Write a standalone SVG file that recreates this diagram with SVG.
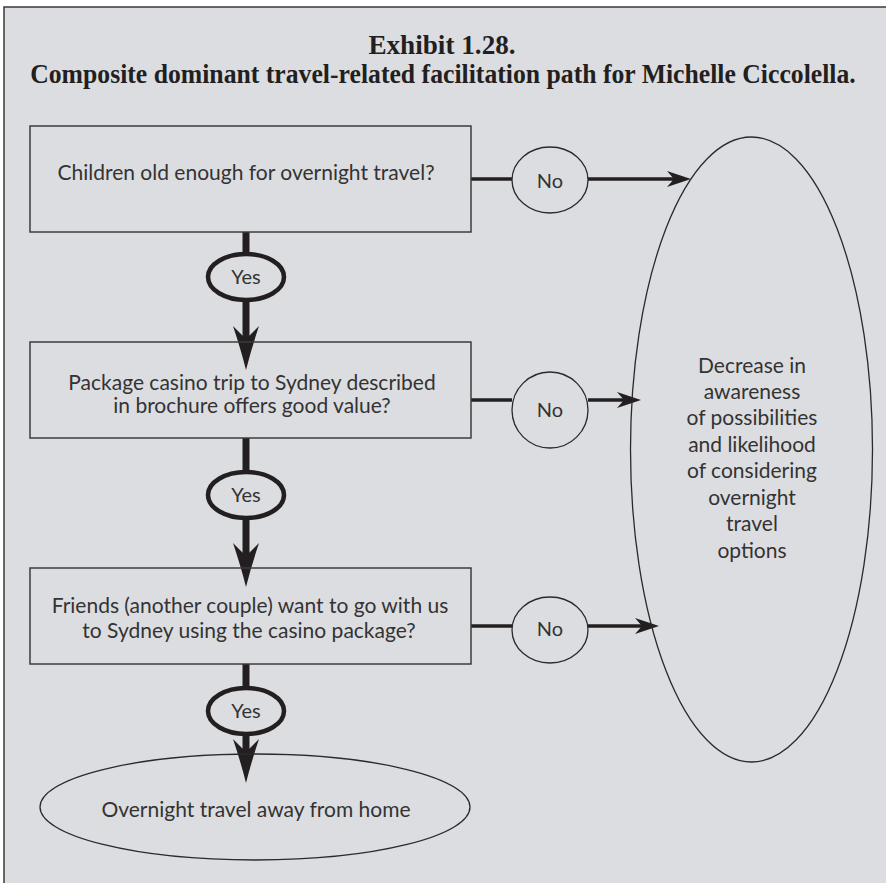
<svg xmlns="http://www.w3.org/2000/svg" xmlns:xlink="http://www.w3.org/1999/xlink" width="886" height="883" viewBox="0 0 886 883">
  <style>
    .panel { fill: #dcdde0; stroke: #3a3a3a; stroke-width: 1.5; }
    .box { fill: none; stroke: #3c3c3c; stroke-width: 1.5; }
    .thin { fill: none; stroke: #2a2a2a; stroke-width: 1.3; }
    .yes { fill: none; stroke: #231f20; stroke-width: 4.5; }
    .shaft { stroke: #231f20; stroke-width: 7; fill: none; }
    .hline { stroke: #231f20; stroke-width: 3.5; fill: none; }
    .head { fill: #231f20; }
    .title { font-family: "Liberation Serif", "Times New Roman", serif; font-weight: bold; font-size: 28px; fill: #231f20; text-anchor: middle; }
    .t { font-family: Lato, "Open Sans", sans-serif; font-size: 21px; fill: #333; text-anchor: middle; }
    .lbl { font-family: Lato, "Open Sans", sans-serif; font-size: 20px; fill: #333; text-anchor: middle; }
    .big { font-family: Lato, "Open Sans", sans-serif; font-size: 21px; fill: #333; text-anchor: middle; }
  </style>
  <defs>
    <!-- heavy barbed head, tip at origin, pointing down -->
    <path id="headDown" d="M0,0 Q5,-20 13,-44 L0,-31 L-13,-44 Q-5,-20 0,0 Z"/>
    <!-- light barbed head, tip at origin, pointing right -->
    <path id="headRight" d="M0,0 L-24,-8 L-17,0 L-24,8 Z"/>
  </defs>

  <!-- background panel -->
  <rect class="panel" x="4" y="7" width="890" height="885"/>

  <!-- condensed bold heading -->
  <g id="title" transform="scale(0.8 1)">
    <text class="title" x="552.5" y="54" textLength="184" lengthAdjust="spacingAndGlyphs">Exhibit 1.28.</text>
    <text class="title" x="553.75" y="83" textLength="1032" lengthAdjust="spacingAndGlyphs">Composite dominant travel-related facilitation path for Michelle Ciccolella.</text>
  </g>

  <g id="connectors">
    <!-- Yes branches -->
    <line class="shaft" x1="246" y1="232" x2="246" y2="253"/>
    <line class="shaft" x1="246" y1="301" x2="246" y2="340"/>
    <use xlink:href="#headDown" class="head" x="246" y="370"/>
    <line class="shaft" x1="246" y1="438" x2="246" y2="471"/>
    <line class="shaft" x1="246" y1="519" x2="246" y2="557"/>
    <use xlink:href="#headDown" class="head" x="246" y="587"/>
    <line class="shaft" x1="246" y1="664" x2="246" y2="688"/>
    <line class="shaft" x1="246" y1="735" x2="246" y2="753"/>
    <use xlink:href="#headDown" class="head" x="246" y="783"/>
    <!-- No branches -->
    <line class="hline" x1="471" y1="179" x2="512" y2="179"/>
    <line class="hline" x1="588" y1="179" x2="674" y2="179"/>
    <use xlink:href="#headRight" class="head" x="691" y="179"/>
    <line class="hline" x1="471" y1="400" x2="512" y2="400"/>
    <line class="hline" x1="588" y1="400" x2="624" y2="400"/>
    <use xlink:href="#headRight" class="head" x="641" y="400"/>
    <line class="hline" x1="471" y1="626" x2="512" y2="626"/>
    <line class="hline" x1="588" y1="626" x2="642" y2="626"/>
    <use xlink:href="#headRight" class="head" x="659" y="626"/>
  </g>

  <g id="q1">
    <rect class="box" x="30" y="126" width="441" height="106"/>
    <text class="t" x="246" y="180">Children old enough for overnight travel?</text>
  </g>
  <g id="q2">
    <rect class="box" x="30" y="342" width="441" height="96"/>
    <text class="t" x="252" y="390">Package casino trip to Sydney described</text>
    <text class="t" x="252" y="413">in brochure offers good value?</text>
  </g>
  <g id="q3">
    <rect class="box" x="30" y="568" width="441" height="96"/>
    <text class="t" x="250" y="613">Friends (another couple) want to go with us</text>
    <text class="t" x="249" y="638">to Sydney using the casino package?</text>
  </g>

  <g id="yes1">
    <ellipse class="yes" cx="246" cy="277" rx="38" ry="23"/>
    <text class="lbl" x="246" y="284">Yes</text>
  </g>
  <g id="yes2">
    <ellipse class="yes" cx="246" cy="495" rx="38" ry="23"/>
    <text class="lbl" x="246" y="502">Yes</text>
  </g>
  <g id="yes3">
    <ellipse class="yes" cx="246" cy="711" rx="38" ry="23"/>
    <text class="lbl" x="246" y="718">Yes</text>
  </g>

  <g id="no1">
    <ellipse class="thin" cx="550" cy="180" rx="38" ry="33"/>
    <text class="lbl" x="550" y="188">No</text>
  </g>
  <g id="no2">
    <ellipse class="thin" cx="550" cy="410" rx="38" ry="38"/>
    <text class="lbl" x="550" y="417">No</text>
  </g>
  <g id="no3">
    <ellipse class="thin" cx="550" cy="630" rx="38" ry="33"/>
    <text class="lbl" x="550" y="636">No</text>
  </g>

  <g id="decrease">
    <ellipse class="thin" cx="751.5" cy="449.5" rx="121" ry="312.5"/>
    <text class="big" x="752" y="373">Decrease in</text>
    <text class="big" x="752" y="399">awareness</text>
    <text class="big" x="752" y="425">of possibilities</text>
    <text class="big" x="752" y="452">and likelihood</text>
    <text class="big" x="752" y="478">of considering</text>
    <text class="big" x="752" y="505">overnight</text>
    <text class="big" x="752" y="531">travel</text>
    <text class="big" x="752" y="558">options</text>
  </g>

  <g id="outcome">
    <ellipse class="thin" cx="255" cy="807" rx="215" ry="53"/>
    <text class="t" x="256" y="817">Overnight travel away from home</text>
  </g>
</svg>
